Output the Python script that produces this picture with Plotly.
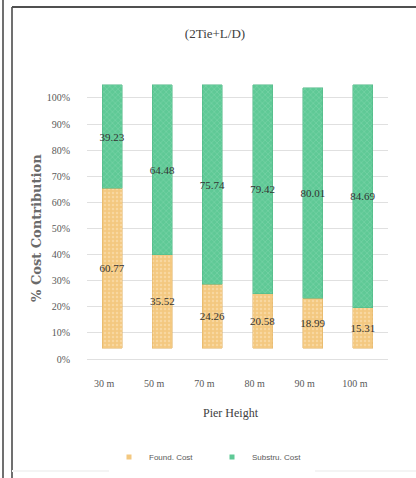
import plotly.graph_objects as go

categories = ["30 m", "50 m", "70 m", "80 m", "90 m", "100 m"]
found_cost = [60.77, 35.52, 24.26, 20.58, 18.99, 15.31]
substru_cost = [39.23, 64.48, 75.74, 79.42, 80.01, 84.69]
y_ticks = list(range(0, 101, 10))
y_tick_labels = [f"{v}%" for v in y_ticks]

W, H = 416, 478
L, R, T, B = 87, 28, 75, 116
PW, PH = W - L - R, H - T - B


def px(x):
    return (x - L) / PW


def py(y):
    return (H - B - y) / PH


serif = "Liberation Serif"
grey = "#595959"
orange = "#F3C880"
green = "#5FC996"

fig = go.Figure()

# invisible trace so the tick axis renders
fig.add_trace(go.Scatter(x=categories, y=[None] * len(categories), xaxis="x", yaxis="y",
                         showlegend=False, hoverinfo="skip"))

fig.add_trace(go.Bar(
    x=categories, y=found_cost, name="Found. Cost", yaxis="y2", showlegend=False,
    marker=dict(color=orange, line=dict(color="#E0B060", width=0.5),
                pattern=dict(shape=".", fgcolor="#FBE6BF", bgcolor=orange, size=4, solidity=0.3)),
    text=[f"{v:.2f}" for v in found_cost], textposition="inside", insidetextanchor="middle",
    textangle=0, constraintext="none", textfont=dict(family=serif, size=11, color="#333333"),
    width=0.4,
))
fig.add_trace(go.Bar(
    x=categories, y=substru_cost, name="Substru. Cost", yaxis="y2", showlegend=False,
    marker=dict(color=green, line=dict(color="#4DB583", width=0.5),
                pattern=dict(shape="x", fgcolor="#9EE2C0", bgcolor=green, size=4, solidity=0.25)),
    text=[f"{v:.2f}" for v in substru_cost], textposition="inside", insidetextanchor="middle",
    textangle=0, constraintext="none", textfont=dict(family=serif, size=11, color="#333333"),
    width=0.4,
))

# legend entries with small square keys
for name, col in [("Found. Cost", orange), ("Substru. Cost", green)]:
    fig.add_trace(go.Scatter(x=[None], y=[None], mode="markers", name=name, yaxis="y2",
                             marker=dict(symbol="square", size=5, color=col)))

shapes = [
    dict(type="line", xref="paper", yref="paper", x0=px(3), x1=px(3), y0=py(0), y1=py(H),
         line=dict(color="#707070", width=2)),
    dict(type="line", xref="paper", yref="paper", x0=px(12), x1=px(12), y0=py(7), y1=py(H),
         line=dict(color="#707070", width=2)),
    dict(type="line", xref="paper", yref="paper", x0=px(12), x1=px(W), y0=py(7), y1=py(7),
         line=dict(color="#505050", width=2)),
    dict(type="line", xref="paper", yref="paper", x0=px(12), x1=px(W), y0=py(471), y1=py(471),
         line=dict(color="#F4F4F4", width=2)),
]

fig.update_layout(
    width=W, height=H,
    margin=dict(l=L, r=R, t=T, b=B, autoexpand=False),
    paper_bgcolor="white", plot_bgcolor="white",
    barmode="stack",
    title=dict(text="(2Tie+L/D)", x=215 / W, xanchor="center", y=1 - 33 / H, yanchor="middle",
               font=dict(family=serif, size=13, color="#404040")),
    xaxis=dict(type="category", showgrid=False, showline=False, ticks="", automargin=False,
               tickfont=dict(family=serif, size=10, color=grey),
               ticklabelshift=-8, ticklabelstandoff=14),
    yaxis=dict(range=[-1.15, 108.8], tickvals=y_ticks, ticktext=y_tick_labels, automargin=False,
               showgrid=True, gridcolor="#E0E0E0", gridwidth=1, zeroline=False, showline=False,
               ticks="", tickfont=dict(family=serif, size=10, color=grey), ticklabelstandoff=16),
    yaxis2=dict(range=[-5.32, 103.8], overlaying="y", visible=False),
    legend=dict(orientation="h", x=px(212), xanchor="center", y=py(457), yanchor="middle",
                font=dict(family="Liberation Sans Narrow, Liberation Sans", size=8, color=grey),
                itemwidth=30, entrywidth=58, entrywidthmode="pixels",
                traceorder="normal", tracegroupgap=0),
    shapes=shapes,
    annotations=[
        dict(text="<b>% Cost Contribution</b>", xref="paper", yref="paper", x=px(36), y=py(228),
             xanchor="center", yanchor="middle",
             showarrow=False, textangle=-90, font=dict(family="DejaVu Serif", size=13, color="#6a6a6a")),
        dict(text="Pier Height", xref="paper", yref="paper", x=px(231), y=py(413),
             xanchor="center", yanchor="middle",
             showarrow=False, font=dict(family=serif, size=12, color="#404040")),
    ],
)

fig.write_html("out.html")
